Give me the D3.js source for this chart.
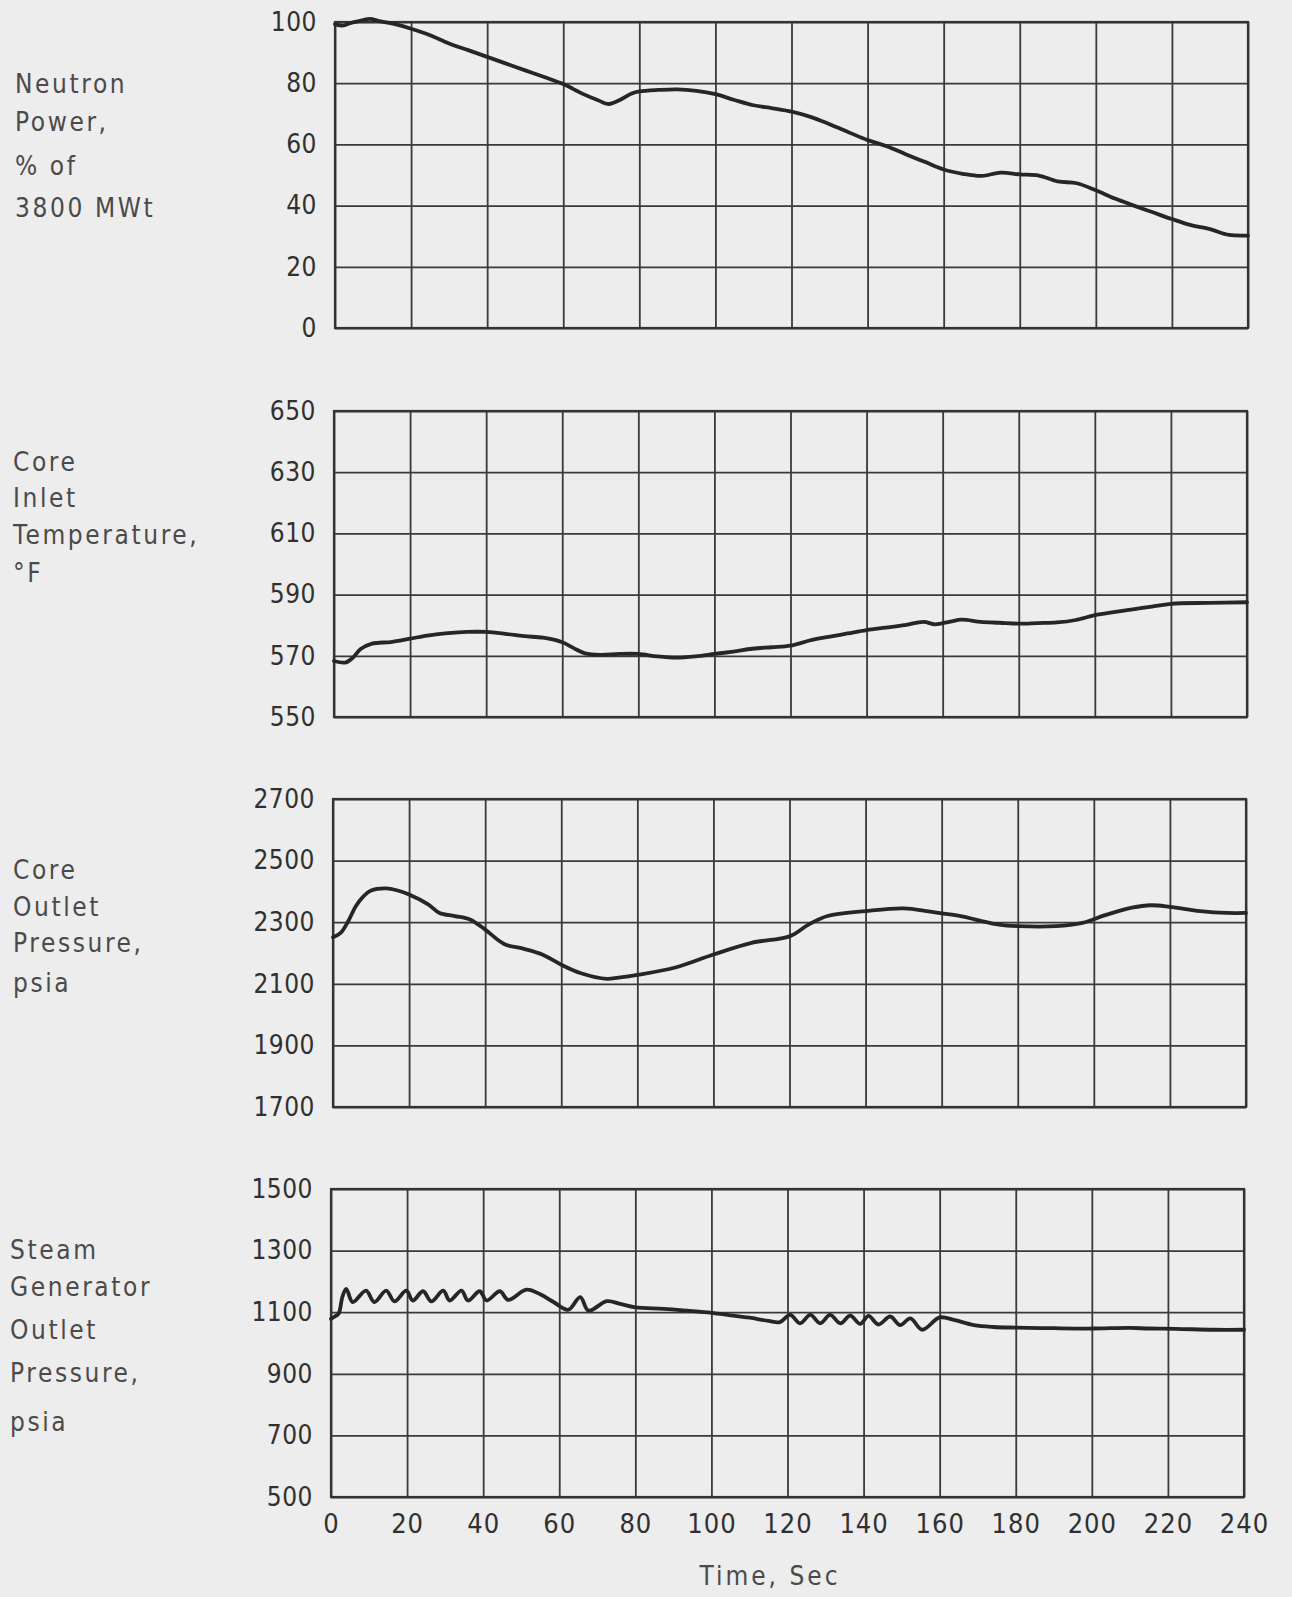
<!DOCTYPE html>
<html>
<head>
<meta charset="utf-8">
<script src="https://cdn.jsdelivr.net/npm/d3@7"></script>
<style>
  html, body { margin: 0; padding: 0; background: #ededed; }
  svg { display: block; }
  text { font-family: "DejaVu Sans Condensed", "Liberation Sans Narrow", sans-serif; font-stretch: condensed; }
</style>
</head>
<body>
<div id="chart"></div>
<script>
/* ---- data (time in s) ---- */
var timeTicks = [0, 20, 40, 60, 80, 100, 120, 140, 160, 180, 200, 220, 240];

var powerTicks = [0, 20, 40, 60, 80, 100];
var tempTicks = [550, 570, 590, 610, 630, 650];
var coreTicks = [1700, 1900, 2100, 2300, 2500, 2700];
var steamTicks = [500, 700, 900, 1100, 1300, 1500];

var neutronPower = [
  [0, 99.3], [2, 98.8], [4, 99.6], [6, 100.2], [9, 101], [12, 100.2], [16, 99.2],
  [20, 97.8], [25, 95.7], [30, 93], [35, 90.8], [40, 88.6], [45, 86.4], [50, 84.2],
  [55, 82], [60, 79.7], [65, 76.6], [69, 74.5], [72, 73.2], [75, 74.6], [78, 76.6],
  [80, 77.3], [85, 77.8], [90, 78], [95, 77.5], [100, 76.4], [105, 74.5], [110, 72.8],
  [115, 71.8], [120, 70.7], [125, 69], [130, 66.6], [135, 64], [140, 61.4], [145, 59.4],
  [150, 56.8], [155, 54.3], [160, 51.8], [165, 50.4], [170, 49.7], [175, 50.8],
  [180, 50.2], [185, 49.8], [190, 47.9], [195, 47.3], [200, 45], [205, 42.3], [210, 40],
  [215, 37.8], [220, 35.6], [225, 33.6], [230, 32.3], [235, 30.4], [240, 30.2]
];

var coreInletTemp = [
  [0, 568.3], [3, 567.8], [5, 569.4], [7, 572.2], [10, 574], [15, 574.5], [20, 575.6],
  [25, 576.7], [30, 577.4], [35, 577.8], [40, 577.8], [45, 577.2], [50, 576.4],
  [55, 575.9], [60, 574.4], [63, 572.5], [66, 570.8], [70, 570.3], [75, 570.6],
  [80, 570.6], [85, 569.8], [90, 569.4], [95, 569.8], [100, 570.6], [105, 571.4],
  [110, 572.3], [115, 572.8], [120, 573.3], [125, 575], [130, 576.2], [135, 577.3],
  [140, 578.4], [145, 579.2], [150, 580], [155, 581.1], [158, 580.3], [162, 581.2],
  [165, 581.8], [170, 581.1], [175, 580.8], [180, 580.5], [185, 580.7], [190, 580.9],
  [195, 581.7], [200, 583.3], [205, 584.3], [210, 585.2], [215, 586.1], [220, 587],
  [230, 587.3], [240, 587.5]
];

var coreOutletPressure = [
  [0, 2251], [2, 2265], [4, 2303], [6, 2352], [8, 2384], [10, 2403], [14, 2410],
  [17, 2403], [20, 2390], [25, 2358], [28, 2330], [32, 2320], [36, 2309], [40, 2276],
  [45, 2229], [50, 2214], [55, 2195], [60, 2162], [65, 2135], [72, 2116], [75, 2120],
  [80, 2129], [90, 2153], [100, 2195], [110, 2233], [120, 2254], [125, 2292],
  [130, 2320], [140, 2336], [150, 2345], [157, 2334], [165, 2320], [170, 2305],
  [175, 2292], [180, 2287], [190, 2287], [197, 2298], [203, 2323], [210, 2347],
  [215, 2355], [220, 2350], [228, 2336], [235, 2330], [240, 2330]
];

var steamGenPressure = [
  [0, 1078], [1, 1086], [2, 1095], [3, 1150], [4, 1176], [5.7, 1133], [9.2, 1170],
  [11.4, 1133], [14.5, 1170], [16.7, 1135], [19.8, 1170], [21.5, 1138], [24.2, 1168],
  [26.4, 1135], [29.5, 1170], [31.2, 1138], [34.3, 1170], [36, 1138], [39.1, 1168],
  [40.9, 1138], [44.4, 1168], [46.6, 1140], [51.4, 1173], [55, 1158], [58.5, 1133],
  [62.4, 1108], [65.5, 1149], [67.7, 1105], [72.5, 1136], [76, 1127], [80, 1116],
  [87.5, 1111], [93.6, 1105], [100, 1098], [105, 1090], [110, 1082], [115, 1072],
  [118, 1068], [120.7, 1091], [123.3, 1064], [126, 1091], [128.6, 1064], [131.2, 1091],
  [133.9, 1064], [136.5, 1089], [139.1, 1062], [141.3, 1088], [143.9, 1060], [147, 1086],
  [149.6, 1058], [152.3, 1080], [155.4, 1043], [160, 1083], [163.7, 1075], [169, 1058],
  [174.2, 1052], [180, 1050], [190, 1048], [200, 1047], [210, 1049], [215, 1047],
  [222, 1046], [232, 1043], [240, 1043]
];

var panelTitles = [
  ['Neutron', 'Power,', '% of', '3800 MWt'],
  ['Core', 'Inlet', 'Temperature,', '\u00b0F'],
  ['Core', 'Outlet', 'Pressure,', 'psia'],
  ['Steam', 'Generator', 'Outlet', 'Pressure,', 'psia']
];

/* ---- layout ---- */
var W = 1292, H = 1597;
var panels = [
  { top: 22,   bottom: 328,  left: 335, right: 1248, ticks: powerTicks, data: neutronPower,
    titleX: 15, titleY: [84, 122, 166, 208] },
  { top: 411,  bottom: 717,  left: 334, right: 1247, ticks: tempTicks, data: coreInletTemp,
    titleX: 13, titleY: [462, 498, 535, 573] },
  { top: 799,  bottom: 1107, left: 333, right: 1246, ticks: coreTicks, data: coreOutletPressure,
    titleX: 13, titleY: [870, 907, 943, 983] },
  { top: 1189, bottom: 1497, left: 331, right: 1244, ticks: steamTicks, data: steamGenPressure,
    titleX: 10, titleY: [1250, 1287, 1330, 1373, 1422] }
];

var svg = d3.select('#chart').append('svg')
  .attr('width', W).attr('height', H);

svg.append('rect').attr('width', W).attr('height', H).attr('fill', '#ededed');

panels.forEach(function (p, i) {
  var x = d3.scaleLinear().domain([0, 240]).range([p.left, p.right]);
  var y = d3.scaleLinear().domain(d3.extent(p.ticks)).range([p.bottom, p.top]);
  var g = svg.append('g');
  var isLast = i === panels.length - 1;

  /* vertical grid (+ time labels on the last panel) */
  var gx = g.append('g')
    .attr('transform', 'translate(0,' + p.bottom + ')')
    .call(d3.axisBottom(x).tickValues(timeTicks)
      .tickSize(-(p.bottom - p.top)).tickSizeOuter(0).tickPadding(17)
      .tickFormat(isLast ? d3.format('d') : function () { return ''; }));

  /* horizontal grid + value labels */
  var gy = g.append('g')
    .attr('transform', 'translate(' + p.left + ',0)')
    .call(d3.axisLeft(y).tickValues(p.ticks)
      .tickSize(-(p.right - p.left)).tickSizeOuter(0).tickPadding(18)
      .tickFormat(d3.format('d')));

  [gx, gy].forEach(function (a) {
    a.select('.domain').remove();
    a.selectAll('line').attr('stroke', '#3a3a3a').attr('stroke-width', 1.8);
    a.selectAll('text').attr('fill', '#303030').attr('font-size', 26)
      .attr('letter-spacing', '0.5px')
      .attr('font-family', null);
  });
  gx.selectAll('text').attr('font-size', 27).attr('letter-spacing', '1px');

  /* frame */
  g.append('rect')
    .attr('x', p.left).attr('y', p.top)
    .attr('width', p.right - p.left).attr('height', p.bottom - p.top)
    .attr('fill', 'none').attr('stroke', '#333').attr('stroke-width', 2.2);

  /* the trace */
  var line = d3.line()
    .x(function (d) { return x(d[0]); })
    .y(function (d) { return y(d[1]); })
    .curve(d3.curveCatmullRom.alpha(0.5));
  g.append('path')
    .datum(p.data)
    .attr('d', line)
    .attr('fill', 'none')
    .attr('stroke', '#262626')
    .attr('stroke-width', 3.8)
    .attr('stroke-linejoin', 'round')
    .attr('stroke-linecap', 'round');

  /* panel title at the left */
  panelTitles[i].forEach(function (t, li) {
    svg.append('text')
      .attr('x', p.titleX).attr('y', p.titleY[li])
      .attr('dy', '0.36em')
      .attr('font-size', 26).attr('letter-spacing', '2.6px')
      .attr('fill', '#4a4a4a')
      .text(t);
  });
});

/* time axis title */
svg.append('text')
  .attr('x', 770).attr('y', 1576).attr('dy', '0.36em')
  .attr('text-anchor', 'middle')
  .attr('font-size', 26).attr('letter-spacing', '3px')
  .attr('fill', '#4a4a4a')
  .text('Time, Sec');
</script>
</body>
</html>
